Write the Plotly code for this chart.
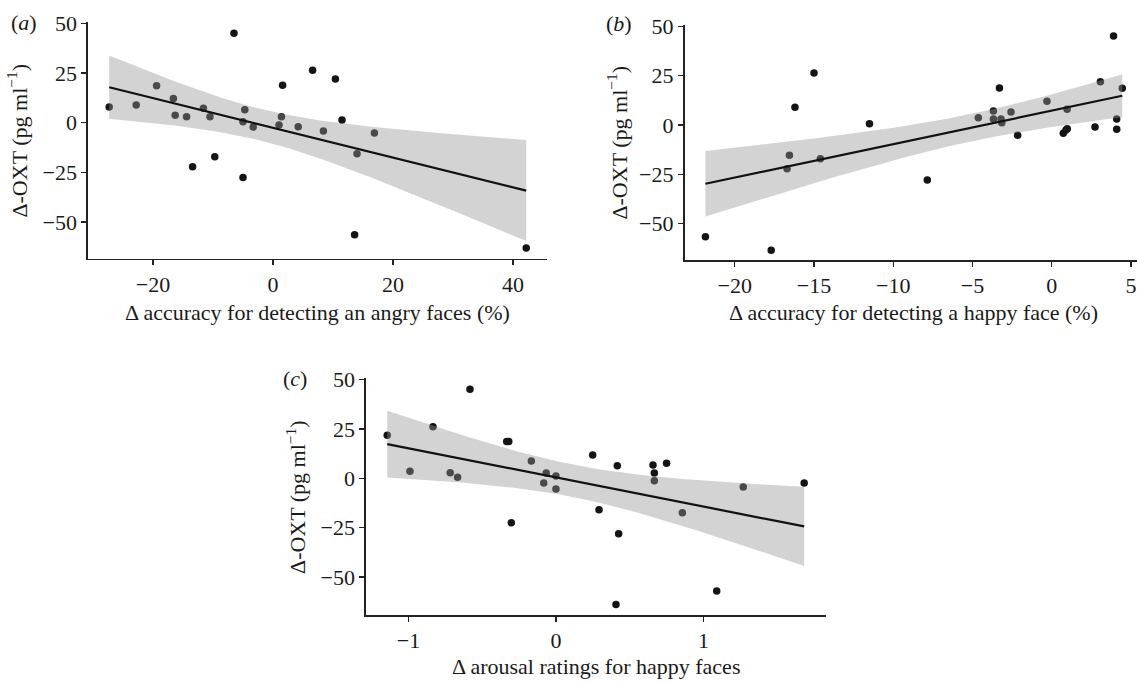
import numpy as np
import plotly.graph_objects as go

# ---------------- data ----------------
a_x = [-27.3, -22.8, -19.4, -16.6, -16.3, -14.4, -13.4, -11.6, -10.5, -9.7, -6.5, -5.0, -4.7, -5.0,
       -3.3, 1.0, 1.4, 1.6, 4.2, 6.6, 8.4, 10.4, 11.5, 14.0, 13.6, 16.9, 42.2]
a_y = [7.9, 8.9, 18.6, 12.1, 3.7, 3.0, -22.1, 7.2, 3.0, -17.1, 44.9, 0.5, 6.5, -27.6,
       -2.2, -1.2, 3.0, 18.8, -2.0, 26.3, -4.2, 22.0, 1.4, -15.6, -56.3, -5.2, -63.0]

b_x = [-21.85, -17.7, -16.55, -16.7, -16.2, -15.0, -14.6, -11.5, -7.85, -4.63, -3.68, -3.68, -3.3, -3.2,
       -3.15, -2.57, -2.15, -0.3, 0.73, 0.9, 0.98, 0.97, 2.73, 3.07, 3.9, 4.1, 4.1, 4.45]
b_y = [-56.7, -63.5, -15.4, -22.2, 9.0, 26.4, -17.1, 0.7, -27.9, 3.7, 7.1, 3.0, 18.8, 3.0,
       1.2, 6.6, -5.2, 12.0, -4.2, -2.5, -1.9, 8.0, -1.0, 22.0, 45.2, 3.0, -2.2, 18.6]

c_x = [-1.144, -0.99, -0.834, -0.717, -0.667, -0.583, -0.334, -0.32, -0.303, -0.167, -0.083, -0.066,
       0.0, 0.0, 0.249, 0.292, 0.416, 0.425, 0.407, 0.658, 0.667, 0.667, 0.75, 0.857, 1.09, 1.27, 1.683]
c_y = [21.8, 3.6, 26.2, 2.8, 0.5, 45.2, 18.6, 18.6, -22.5, 8.8, -2.4, 2.7,
       1.2, -5.4, 11.8, -15.9, 6.4, -28.1, -64.0, 6.8, 2.7, -1.2, 7.6, -17.5, -57.1, -4.4, -2.4]

y_ticks = [-50, -25, 0, 25, 50]
a_ticks = [-20, 0, 20, 40]
b_ticks = [-20, -15, -10, -5, 0, 5]
c_ticks = [-1, 0, 1]

x_titles = ["Δ accuracy for detecting an angry faces (%)",
            "Δ accuracy for detecting a happy face (%)",
            "Δ arousal ratings for happy faces"]
y_title = "Δ-OXT (pg ml<sup>−1</sup>)"
panel_labels = ["(<i>a</i>)", "(<i>b</i>)", "(<i>c</i>)"]

# ---------------- helpers ----------------
W, H = 1137, 682
FONT = "Liberation Serif"
FS_TICK = 22
FS_TITLE = 22


def px(x):
    return x / W


def py(y):
    return 1 - y / H


def tq975(df):
    z = 1.959964
    return (z + (z ** 3 + z) / (4 * df) +
            (5 * z ** 5 + 16 * z ** 3 + 3 * z) / (96 * df ** 2))


def lm_fit(x, y, n_grid=80):
    x = np.asarray(x, float)
    y = np.asarray(y, float)
    n = len(x)
    b1, b0 = np.polyfit(x, y, 1)
    resid = y - (b0 + b1 * x)
    s = np.sqrt(np.sum(resid ** 2) / (n - 2))
    xm = x.mean()
    sxx = np.sum((x - xm) ** 2)
    xg = np.linspace(x.min(), x.max(), n_grid)
    yg = b0 + b1 * xg
    se = s * np.sqrt(1 / n + (xg - xm) ** 2 / sxx)
    t = tq975(n - 2)
    return xg, yg, yg - t * se, yg + t * se


fig = go.Figure()

panels = [
    dict(x=a_x, y=a_y, xa="x", ya="y"),
    dict(x=b_x, y=b_y, xa="x2", ya="y2"),
    dict(x=c_x, y=c_y, xa="x3", ya="y3"),
]

for p in panels:
    fig.add_trace(go.Scatter(x=p["x"], y=p["y"], mode="markers", xaxis=p["xa"], yaxis=p["ya"],
                             marker=dict(size=7.5, color="#141414"), showlegend=False,
                             hoverinfo="skip", cliponaxis=False))
    xg, yg, lo, hi = lm_fit(p["x"], p["y"])
    fig.add_trace(go.Scatter(x=xg, y=lo, mode="lines", line=dict(width=0), xaxis=p["xa"],
                             yaxis=p["ya"], showlegend=False, hoverinfo="skip"))
    fig.add_trace(go.Scatter(x=xg, y=hi, mode="lines", line=dict(width=0), fill="tonexty",
                             fillcolor="rgba(150,150,150,0.42)", xaxis=p["xa"], yaxis=p["ya"],
                             showlegend=False, hoverinfo="skip"))
    fig.add_trace(go.Scatter(x=xg, y=yg, mode="lines", line=dict(color="#111111", width=2.2),
                             xaxis=p["xa"], yaxis=p["ya"], showlegend=False, hoverinfo="skip"))

axis_common = dict(showgrid=False, zeroline=False, showline=True, linecolor="#222222",
                   linewidth=1.6, ticks="outside", ticklen=5, tickwidth=1.4, tickcolor="#222222",
                   tickfont=dict(family=FONT, size=FS_TICK, color="#1a1a1a"), fixedrange=True,
                   automargin=False)

# pixel geometry of panels
geo = {
    "a": dict(x0=88, x1=546.5, y0=22.4, y1=258.8, xr=[-30.83, 45.58], yr=[-68.4, 50.4]),
    "b": dict(x0=684.5, x1=1137, y0=25.3, y1=260.0, xr=[-23.17, 5.38], yr=[-68.5, 50.6]),
    "c": dict(x0=366, x1=826, y0=378.3, y1=615.4, xr=[-1.288, 1.831], yr=[-69.5, 50.7]),
}

layout = dict(width=W, height=H, margin=dict(l=0, r=0, t=0, b=0, autoexpand=False),
              plot_bgcolor="white", paper_bgcolor="white", showlegend=False)

for key, (xa, ya), xt in zip(["a", "b", "c"], [("xaxis", "yaxis"), ("xaxis2", "yaxis2"),
                                              ("xaxis3", "yaxis3")], [a_ticks, b_ticks, c_ticks]):
    g = geo[key]
    anchor_y = ya.replace("axis", "")
    anchor_x = xa.replace("axis", "")
    layout[xa] = dict(axis_common, domain=[px(g["x0"]), px(g["x1"])], range=g["xr"],
                      tickvals=xt, anchor=anchor_y)
    layout[ya] = dict(axis_common, domain=[py(g["y1"]), py(g["y0"])], range=g["yr"],
                      tickvals=y_ticks, anchor=anchor_x)

fig.update_layout(**layout)

ann = []
title_font = dict(family=FONT, size=FS_TITLE, color="#1a1a1a")
# x-axis titles
for txt, (cx, cy) in zip(x_titles, [(317, 312), (913, 312), (596, 666)]):
    ann.append(dict(text=txt, x=px(cx), y=py(cy), xref="paper", yref="paper", showarrow=False,
                    xanchor="center", yanchor="middle", font=title_font))
# y-axis titles
for (cx, cy) in [(17, 140.6), (617, 142.6), (296, 497)]:
    ann.append(dict(text=y_title, x=px(cx), y=py(cy), xref="paper", yref="paper", showarrow=False,
                    xanchor="center", yanchor="middle", textangle=-90, font=title_font))
# panel labels
for txt, (cx, cy) in zip(panel_labels, [(24, 23), (619, 24), (295, 379)]):
    ann.append(dict(text=txt, x=px(cx), y=py(cy), xref="paper", yref="paper", showarrow=False,
                    xanchor="center", yanchor="middle", font=title_font))
fig.update_layout(annotations=ann)

fig.write_html("out.html", config={"displayModeBar": False, "staticPlot": True},
               post_script="document.body.style.margin='0';document.body.style.overflow='hidden';")
